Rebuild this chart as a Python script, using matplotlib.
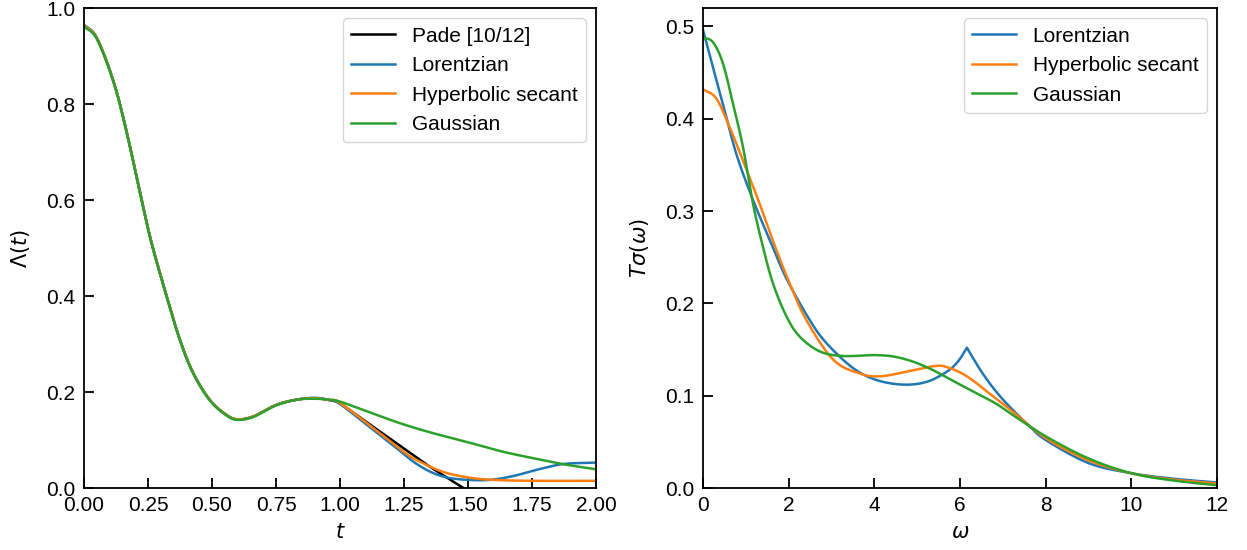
import matplotlib
matplotlib.use("Agg")
import matplotlib.pyplot as plt
import numpy as np

plt.rcParams['font.family'] = ['Liberation Sans', 'DejaVu Sans']
plt.rcParams['font.size'] = 15
plt.rcParams['mathtext.fontset'] = 'dejavusans'

# ---- left panel: Lambda(t) ----
t_pade = [0.0, 0.04, 0.075, 0.11, 0.14, 0.18, 0.225, 0.264, 0.323, 0.375, 0.427, 0.492,
          0.557, 0.6, 0.661, 0.75, 0.83, 0.9, 0.96, 1.0, 1.091, 1.221, 1.352, 1.482, 1.55]
y_pade = [0.963, 0.946, 0.907, 0.855, 0.800, 0.710, 0.600, 0.510, 0.399, 0.308, 0.239, 0.183,
          0.152, 0.143, 0.149, 0.173, 0.184, 0.187, 0.183, 0.176, 0.142, 0.093, 0.044, 0.000, -0.025]

t_lor = [0.0, 0.04, 0.075, 0.11, 0.14, 0.18, 0.225, 0.264, 0.323, 0.375, 0.427, 0.492,
         0.557, 0.6, 0.661, 0.75, 0.83, 0.9, 0.96, 1.0, 1.156, 1.221, 1.286, 1.352, 1.417,
         1.497, 1.586, 1.677, 1.768, 1.872, 2.0]
y_lor = [0.965, 0.947, 0.908, 0.856, 0.801, 0.711, 0.601, 0.511, 0.399, 0.308, 0.239, 0.183,
         0.152, 0.143, 0.149, 0.173, 0.184, 0.188, 0.183, 0.175, 0.110, 0.083, 0.055, 0.034,
         0.022, 0.017, 0.017, 0.025, 0.038, 0.050, 0.053]

t_sech = [0.0, 0.04, 0.075, 0.11, 0.14, 0.18, 0.225, 0.264, 0.323, 0.375, 0.427, 0.492,
          0.557, 0.6, 0.661, 0.75, 0.83, 0.9, 0.96, 1.0, 1.156, 1.247, 1.30, 1.40, 1.50,
          1.60, 1.75, 2.0]
y_sech = [0.963, 0.946, 0.907, 0.855, 0.800, 0.710, 0.600, 0.510, 0.399, 0.308, 0.239, 0.183,
          0.152, 0.143, 0.149, 0.173, 0.184, 0.187, 0.183, 0.177, 0.114, 0.076, 0.058, 0.034,
          0.022, 0.017, 0.015, 0.015]

t_gauss = [0.0, 0.04, 0.075, 0.11, 0.14, 0.18, 0.225, 0.264, 0.323, 0.375, 0.427, 0.492,
           0.557, 0.6, 0.661, 0.75, 0.83, 0.9, 0.96, 1.0, 1.104, 1.234, 1.365, 1.495, 1.625,
           1.755, 1.879, 2.0]
y_gauss = [0.961, 0.944, 0.906, 0.854, 0.799, 0.709, 0.599, 0.509, 0.398, 0.307, 0.238, 0.182,
           0.151, 0.142, 0.148, 0.172, 0.184, 0.186, 0.184, 0.180, 0.160, 0.135, 0.114, 0.096,
           0.077, 0.062, 0.049, 0.039]

# ---- right panel: T sigma(omega) ----
w_lor = [0.0, 0.464, 0.776, 1.166, 1.556, 1.946, 2.49, 2.88, 3.50, 4.05, 4.67, 5.22,
         5.69, 5.95, 6.16, 6.5, 6.85, 7.2, 7.6, 8.0, 9.0, 10.0, 11.0, 12.0]
s_lor = [0.496, 0.416, 0.362, 0.312, 0.269, 0.227, 0.182, 0.157, 0.130, 0.117, 0.112,
         0.115, 0.126, 0.137, 0.152, 0.126, 0.104, 0.086, 0.068, 0.052, 0.027, 0.016, 0.010, 0.006]

w_sech = [0.0, 0.31, 0.62, 0.93, 1.32, 1.71, 2.02, 2.41, 3.04, 3.66, 4.13, 4.75, 5.38,
          5.69, 6.16, 6.78, 7.17, 8.0, 9.0, 10.0, 11.0, 12.0]
s_sech = [0.432, 0.422, 0.391, 0.355, 0.308, 0.258, 0.222, 0.182, 0.139, 0.124, 0.121,
          0.126, 0.132, 0.131, 0.121, 0.099, 0.085, 0.054, 0.030, 0.016, 0.009, 0.005]

w_gauss = [0.0, 0.23, 0.464, 0.70, 0.93, 1.166, 1.40, 1.63, 1.946, 2.257, 2.725, 3.27,
           4.05, 4.60, 5.22, 6.0, 6.78, 7.17, 8.0, 9.0, 10.0, 11.0, 12.0]
s_gauss = [0.488, 0.483, 0.460, 0.416, 0.370, 0.308, 0.261, 0.222, 0.186, 0.164, 0.148,
           0.143, 0.144, 0.141, 0.131, 0.112, 0.093, 0.081, 0.056, 0.032, 0.016, 0.008, 0.003]


def smooth(x, y):
    # Catmull-Rom curve through the read points
    x = np.asarray(x, float)
    y = np.asarray(y, float)
    xs, ys = [], []
    for i in range(len(x) - 1):
        x0 = x[i - 1] if i > 0 else x[i] - (x[i + 1] - x[i])
        y0 = y[i - 1] if i > 0 else y[i] - (y[i + 1] - y[i])
        x3 = x[i + 2] if i + 2 < len(x) else x[i + 1] + (x[i + 1] - x[i])
        y3 = y[i + 2] if i + 2 < len(y) else y[i + 1] + (y[i + 1] - y[i])
        u = np.linspace(0, 1, 20, endpoint=False)
        for p0, p1, p2, p3, out in ((x0, x[i], x[i + 1], x3, xs), (y0, y[i], y[i + 1], y3, ys)):
            out.extend(0.5 * ((2 * p1) + (-p0 + p2) * u + (2 * p0 - 5 * p1 + 4 * p2 - p3) * u ** 2
                              + (-p0 + 3 * p1 - 3 * p2 + p3) * u ** 3))
    xs.append(x[-1])
    ys.append(y[-1])
    return np.array(xs), np.array(ys)


def sharp(x, y, peak):
    # smooth on either side of the cusp
    x = np.asarray(x, float)
    i = int(np.argmin(np.abs(x - peak)))
    xa, ya = smooth(x[:i + 1], y[:i + 1])
    xb, yb = smooth(x[i:], y[i:])
    return np.concatenate([xa, xb]), np.concatenate([ya, yb])


lw = 1.8
fig = plt.figure(figsize=(12.47, 5.5), dpi=100)
ax1 = fig.add_axes([0.0674, 0.1127, 0.4106, 0.8727])
ax2 = fig.add_axes([0.5638, 0.1127, 0.4122, 0.8727])

ax1.plot(*smooth(t_pade, y_pade), color='black', lw=lw, label='Pade [10/12]')
ax1.plot(*smooth(t_lor, y_lor), color='tab:blue', lw=lw, label='Lorentzian')
ax1.plot(*smooth(t_sech, y_sech), color='tab:orange', lw=lw, label='Hyperbolic secant')
ax1.plot(*smooth(t_gauss, y_gauss), color='tab:green', lw=lw, label='Gaussian')
ax1.set_xlim(0, 2)
ax1.set_ylim(0, 1)
ax1.set_xlabel('$t$', labelpad=6)
ax1.set_ylabel(r'$\Lambda(t)$', labelpad=10)
ax1.legend(loc='upper right', handlelength=2.1)

ax2.plot(*sharp(w_lor, s_lor, 6.16), color='tab:blue', lw=lw, label='Lorentzian')
ax2.plot(*smooth(w_sech, s_sech), color='tab:orange', lw=lw, label='Hyperbolic secant')
ax2.plot(*smooth(w_gauss, s_gauss), color='tab:green', lw=lw, label='Gaussian')
ax2.set_xlim(0, 12)
ax2.set_ylim(0, 0.52)
ax2.set_xlabel(r'$\omega$', labelpad=6)
ax2.set_ylabel(r'$T\sigma(\omega)$', labelpad=10)
ax2.legend(loc='upper right', handlelength=2.1)

for ax in (ax1, ax2):
    ax.tick_params(direction='in', length=7, width=1.3)
    ax.tick_params(axis='x', pad=5.5)
    ax.tick_params(axis='y', pad=6.5)
    for s in ax.spines.values():
        s.set_linewidth(1.3)

fig.savefig('out.png', dpi=100)
